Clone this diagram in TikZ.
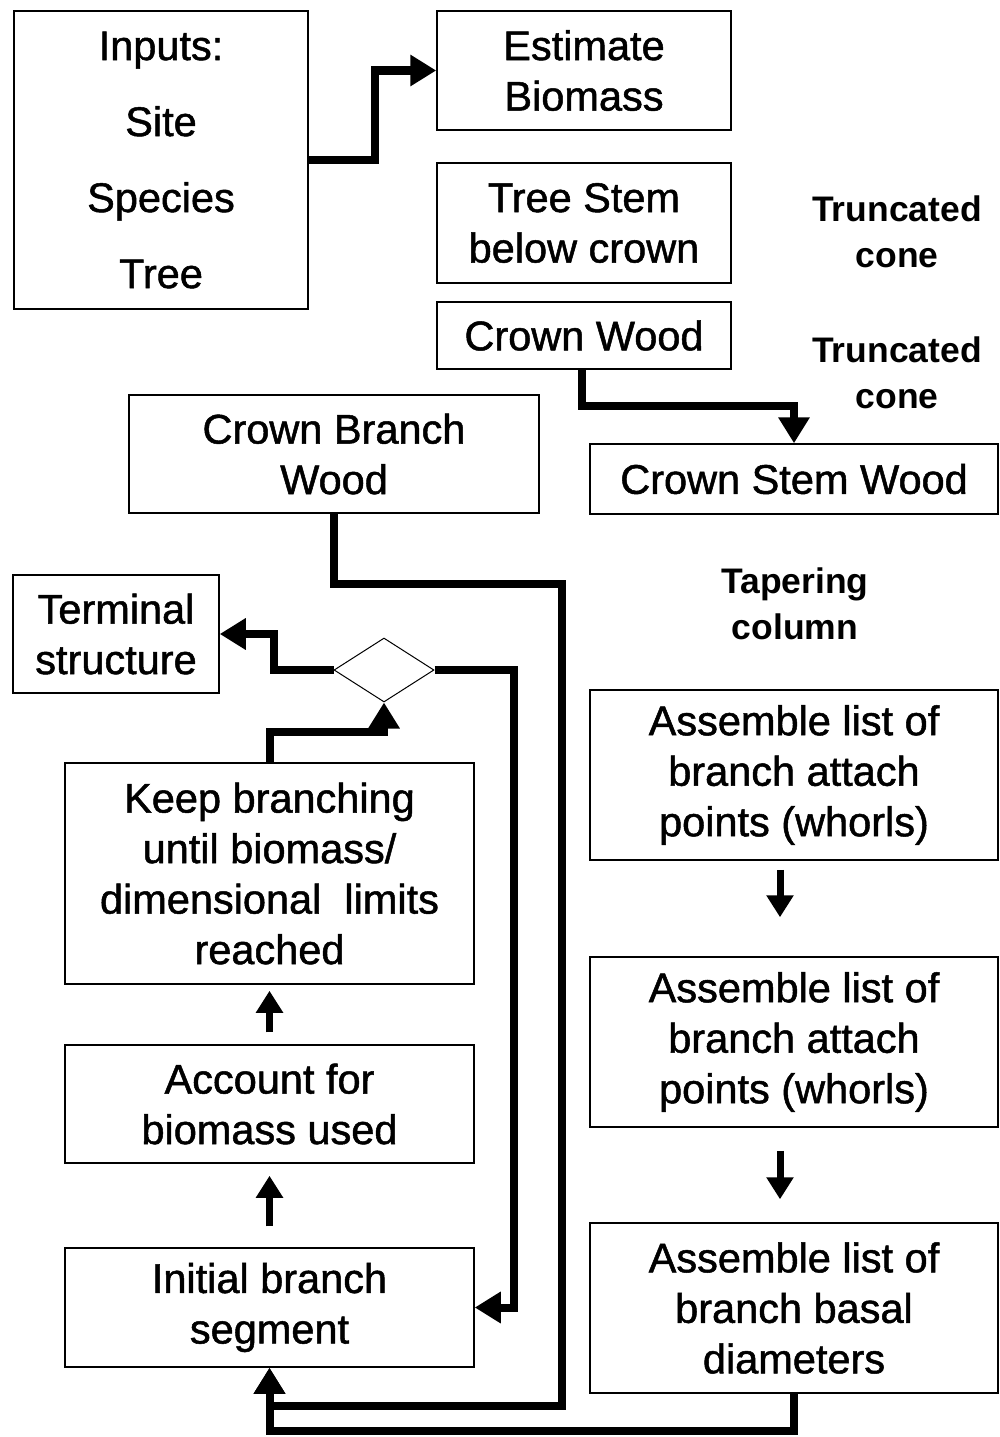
\documentclass[tikz,border=0pt]{standalone}
\usepackage{fontspec}
\setmainfont{Liberation Sans}
\newfontfamily\boxfont{Liberation Sans}[FakeBold=1.2]
\usetikzlibrary{arrows.meta,shapes.geometric,calc}
\begin{document}
\begin{tikzpicture}[x=1pt,y=-1pt,
  box/.style={draw,line width=1.5pt,rectangle,inner sep=0pt,align=center,font=\boxfont\fontsize{41.5}{50.5}\selectfont},
  note/.style={align=center,font=\bfseries\fontsize{35.5}{46}\selectfont},
  conn/.style={line width=8pt,-{Triangle[length=26pt,width=30pt]}},
  short/.style={line width=7pt,-{Triangle[length=22pt,width=26pt]}}]
\useasboundingbox (0,0) rectangle (999,1437);
\fill[white] (0,0) rectangle (999,1437);
\node[box,minimum width=294pt,minimum height=298pt,font=\boxfont\fontsize{41.5}{76}\selectfont] (inputs) at (161,160) {Inputs:\\Site\\Species\\Tree};
\node[box,minimum width=294pt,minimum height=119pt] (est) at (584,70.5) {Estimate\\Biomass};
\node[box,minimum width=294pt,minimum height=120pt] (stem) at (584,223) {Tree Stem\\below crown};
\node[box,minimum width=294pt,minimum height=67pt] (cwood) at (584,335.5) {Crown Wood};
\node[box,minimum width=408pt,minimum height=70pt] (csw) at (794,479) {Crown Stem Wood};
\node[box,minimum width=410pt,minimum height=118pt] (cbw) at (334,454) {Crown Branch\\Wood};
\node[box,minimum width=206pt,minimum height=118pt] (term) at (116,634) {Terminal\\structure};
\node[draw,diamond,line width=1pt,minimum width=100pt,minimum height=64pt,inner sep=0pt] (dia) at (384,670) {};
\node[box,minimum width=409pt,minimum height=221pt] (keep) at (269.5,873.5) {Keep branching\\until biomass/\\dimensional\ \ limits\\reached};
\node[box,minimum width=409pt,minimum height=118pt] (acct) at (269.5,1104) {Account for\\biomass used};
\node[box,minimum width=409pt,minimum height=119pt] (init) at (269.5,1307.5) {Initial branch\\segment};
\node[box,minimum width=408pt,minimum height=170pt] (as1) at (794,775) {Assemble list of\\branch attach\\points (whorls)};
\node[box,minimum width=408pt,minimum height=170pt] (as2) at (794,1042) {Assemble list of\\branch attach\\points (whorls)};
\node[box,minimum width=408pt,minimum height=170pt] (as3) at (794,1308) {Assemble list of\\branch basal\\diameters};
\node[note] (tc1) at (897,232) {Truncated\\cone};
\node[note] (tc2) at (897,373) {Truncated\\cone};
\node[note] (tap) at (795,604) {Tapering\\column};
% connectors
\draw[conn] (inputs.east) -- ++(66,0) |- (est.west);
\draw[conn] ([xshift=-2pt]cwood.south) -- ++(0,36) -| (csw.north);
\draw[conn] (cbw.south) -- ++(0,70) -- ++(228,0) -- ++(0,822) -| (init.south);
\draw[conn] (as3.south) -- ++(0,37) -| (init.south);
\draw[conn] (dia.east) -- ++(79,0) |- (init.east);
\draw[conn] (dia.west) -- ++(-60,0) |- (term.east);
\draw[conn] (keep.north) -- ++(0,-30) -| (dia.south);
\draw[short] ($(acct.north)+(0,-12)$) -- ($(keep.south)+(0,6)$);
\draw[short] ($(init.north)+(0,-21)$) -- ($(acct.south)+(0,12)$);
\draw[short] ($(as1.south)+(-14,9)$) -- ($(as2.north)+(-14,-39)$);
\draw[short] ($(as2.south)+(-14,23)$) -- ($(as3.north)+(-14,-23)$);
\end{tikzpicture}
\end{document}
